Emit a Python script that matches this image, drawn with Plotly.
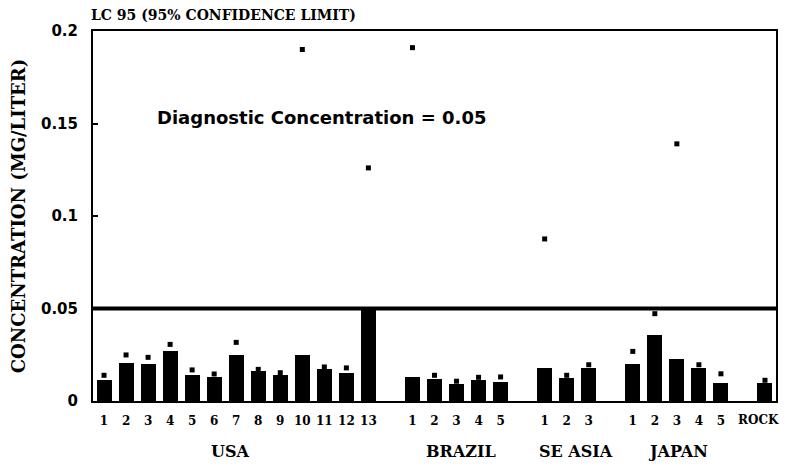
import plotly.graph_objects as go

# ---- data ----
groups = ["USA", "BRAZIL", "SE ASIA", "JAPAN", "ROCK"]
usa_labels = [str(i) for i in range(1, 14)]
brazil_labels = [str(i) for i in range(1, 6)]
seasia_labels = [str(i) for i in range(1, 4)]
japan_labels = [str(i) for i in range(1, 6)]
rock_labels = ["ROCK"]

usa_lc50 = [0.0116, 0.0206, 0.0202, 0.0272, 0.0143, 0.0132, 0.0249, 0.0164, 0.0141, 0.0247, 0.0174, 0.0152, 0.050]
usa_lc95 = [0.0139, 0.0249, 0.0236, 0.0306, 0.0168, 0.0146, 0.0317, 0.0171, 0.0153, 0.190, 0.0184, 0.0179, 0.126]
brazil_lc50 = [0.0130, 0.0120, 0.0094, 0.0116, 0.0105]
brazil_lc95 = [0.191, 0.0139, 0.0107, 0.0128, 0.0130]
seasia_lc50 = [0.0179, 0.0125, 0.0179]
seasia_lc95 = [0.0876, 0.0139, 0.0196]
japan_lc50 = [0.0200, 0.0358, 0.0227, 0.0181, 0.0098]
japan_lc95 = [0.0268, 0.0472, 0.139, 0.0196, 0.0147]
rock_lc50 = [0.0098]
rock_lc95 = [0.0112]

diagnostic = 0.05
y_tickvals = [0, 0.05, 0.1, 0.15, 0.2]
y_ticktext = ["0", "0.05", "0.1", "0.15", "0.2"]

# build slot positions (one empty slot between groups)
label_sets = [usa_labels, brazil_labels, seasia_labels, japan_labels, rock_labels]
lc50_sets = [usa_lc50, brazil_lc50, seasia_lc50, japan_lc50, rock_lc50]
lc95_sets = [usa_lc95, brazil_lc95, seasia_lc95, japan_lc95, rock_lc95]
xs, labels, lc50, lc95 = [], [], [], []
pos = 0
for labs, a, b in zip(label_sets, lc50_sets, lc95_sets):
    for l, v50, v95 in zip(labs, a, b):
        xs.append(pos); labels.append(l); lc50.append(v50); lc95.append(v95)
        pos += 1
    pos += 1

group_label_x = [5.74, 16.2, 21.4, 26.05]

serif = "DejaVu Serif"
W, H = 775, 453  # page adds an 8px body margin on each side
tick_font = dict(family=serif, size=12, color="black", weight="bold")

# the last label (ROCK) is drawn as an annotation so it can sit slightly left, as in the original
tick_text_axis = labels[:-1] + [""]

fig = go.Figure()
fig.add_trace(go.Bar(x=xs, y=lc50, width=0.68, marker=dict(color="black", line=dict(width=0)),
                     showlegend=False))
fig.add_trace(go.Scatter(x=xs, y=lc95, mode="markers",
                         marker=dict(symbol="square", size=5, color="black"), showlegend=False))

fig.add_shape(type="line", xref="paper", x0=0, x1=1, yref="y", y0=diagnostic, y1=diagnostic,
              line=dict(color="black", width=4))

fig.add_annotation(x=2.3, y=0.153, xref="x", yref="y", xanchor="left", yanchor="middle",
                   text="Diagnostic Concentration = 0.05", showarrow=False,
                   font=dict(family="DejaVu Sans", size=18, color="black", weight="bold"))

fig.add_annotation(x=xs[-1], y=-0.0526, xref="x", yref="paper", text=labels[-1], showarrow=False,
                   xanchor="center", yanchor="middle", xshift=-6, font=tick_font)

for g, gx in zip(groups[:4], group_label_x):
    fig.add_annotation(x=gx, y=-0.1363, xref="x", yref="paper", text=g, showarrow=False,
                       xanchor="center", yanchor="middle",
                       font=dict(family=serif, size=16, color="black", weight="bold"))

fig.update_layout(
    width=W, height=H,
    margin=dict(l=85, r=7, t=23, b=59.5),
    paper_bgcolor="white", plot_bgcolor="white",
    bargap=0,
    title=dict(text="LC 95 (95% CONFIDENCE LIMIT)", x=83/W, xanchor="left",
               y=1 - 7/H, yanchor="middle",
               font=dict(family=serif, size=14, color="black", weight="bold")),
    xaxis=dict(range=[-0.5, 30.5], tickvals=xs, ticktext=tick_text_axis, showgrid=False, zeroline=False,
               showline=True, linecolor="black", linewidth=2, mirror=True, ticks="",
               ticklabelstandoff=8, automargin=False,
               tickfont=tick_font, fixedrange=True),
    yaxis=dict(range=[0, 0.2], tickvals=y_tickvals, ticktext=y_ticktext, showgrid=False,
               zeroline=False, showline=True, linecolor="black", linewidth=2, mirror=True,
               ticks="inside", ticklen=5, tickwidth=2, tickcolor="black",
               ticklabelstandoff=10, automargin=False,
               tickfont=dict(family="DejaVu Sans", size=15, color="black", weight="bold"),
               title=dict(text="CONCENTRATION (MG/LITER)", standoff=14,
                          font=dict(family=serif, size=18, color="black", weight="bold"))),
)

fig.write_html("out.html")
